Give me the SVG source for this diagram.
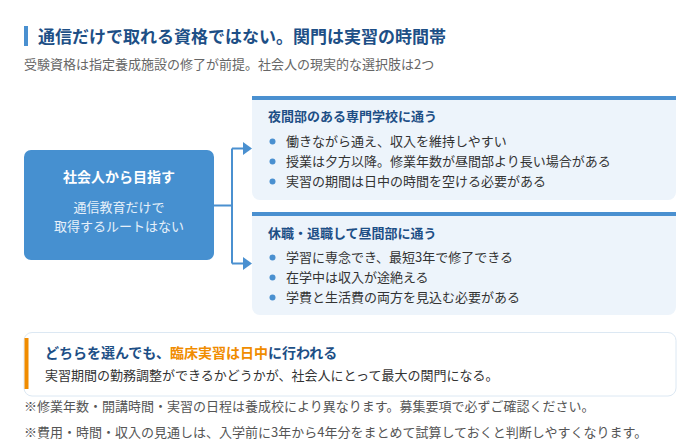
<svg xmlns="http://www.w3.org/2000/svg" width="700" height="444" viewBox="0 0 700 444">
<defs>
<style>
text{font-family:"Noto Sans CJK JP","Noto Sans",sans-serif;}
.title{font-size:17px;font-weight:700;fill:#1d4f86;}
.sub{font-size:13px;fill:#666;}
.nodeT{font-size:14px;font-weight:700;fill:#fff;}
.nodeS{font-size:13px;fill:#e6f0fa;}
.cardH{font-size:13px;font-weight:700;fill:#1d4f86;}
.item{font-size:13px;fill:#333;}
.dot{fill:#4a90d0;}
.card{fill:#edf4fb;}
.bar{fill:#4a90d0;}
.conn{fill:none;stroke:#4a90d0;stroke-width:2;}
.head{fill:#4a90d0;}
.noteH{font-size:14px;font-weight:700;fill:#1d4f86;}
.noteB{font-size:13px;fill:#333;}
.foot{font-size:13px;fill:#555;}
</style>
</defs>
<rect x="0" y="0" width="700" height="444" fill="#fff"/>
<g id="header">
<rect x="24" y="26" width="4" height="20" fill="#4a90d0"/>
<text class="title" x="38" y="43">通信だけで取れる資格ではない。関門は実習の時間帯</text>
<text class="sub" x="24" y="69">受験資格は指定養成施設の修了が前提。社会人の現実的な選択肢は2つ</text>
</g>
<g id="connectors">
<path class="conn" d="M214 205.5 H232 M232 148.5 V263.5 M232 148.5 H244 M232 263.5 H244"/>
<polygon class="head" points="243,142 252,148.5 243,155"/>
<polygon class="head" points="243,257 252,263.5 243,270"/>
</g>
<g id="start">
<rect x="24" y="150" width="190" height="110" rx="7" fill="#4690d0"/>
<text class="nodeT" x="119" y="182" text-anchor="middle">社会人から目指す</text>
<text class="nodeS" x="119" y="212" text-anchor="middle">通信教育だけで</text>
<text class="nodeS" x="119" y="231" text-anchor="middle">取得するルートはない</text>
</g>
<g id="night">
<path class="card" d="M252 96 H676 V192 A8 8 0 0 1 668 200 H260 A8 8 0 0 1 252 192 Z"/>
<rect class="bar" x="252" y="96" width="424" height="4"/>
<text class="cardH" x="268" y="121">夜間部のある専門学校に通う</text>
<circle class="dot" cx="272.5" cy="141.5" r="3"/>
<text class="item" x="286" y="146">働きながら通え、収入を維持しやすい</text>
<circle class="dot" cx="272.5" cy="161.5" r="3"/>
<text class="item" x="286" y="166">授業は夕方以降。修業年数が昼間部より長い場合がある</text>
<circle class="dot" cx="272.5" cy="181.5" r="3"/>
<text class="item" x="286" y="186">実習の期間は日中の時間を空ける必要がある</text>
</g>
<g id="day">
<path class="card" d="M252 212 H676 V307 A8 8 0 0 1 668 315 H260 A8 8 0 0 1 252 307 Z"/>
<rect class="bar" x="252" y="212" width="424" height="4"/>
<text class="cardH" x="268" y="238">休職・退職して昼間部に通う</text>
<circle class="dot" cx="272.5" cy="257.5" r="3"/>
<text class="item" x="286" y="262">学習に専念でき、最短3年で修了できる</text>
<circle class="dot" cx="272.5" cy="277.5" r="3"/>
<text class="item" x="286" y="282">在学中は収入が途絶える</text>
<circle class="dot" cx="272.5" cy="297.5" r="3"/>
<text class="item" x="286" y="302">学費と生活費の両方を見込む必要がある</text>
</g>
<g id="note">
<rect x="24" y="332.5" width="652" height="63.5" rx="8" fill="#fff" stroke="#dce8f3" stroke-width="1"/>
<rect x="24.5" y="338" width="4" height="51" fill="#f08c00"/>
<text class="noteH" x="45" y="358">どちらを選んでも、<tspan fill="#f08c00">臨床実習は日中</tspan>に行われる</text>
<text class="noteB" x="45" y="380">実習期間の勤務調整ができるかどうかが、社会人にとって最大の関門になる。</text>
</g>
<g id="footnotes">
<text class="foot" x="24" y="411">※修業年数・開講時間・実習の日程は養成校により異なります。募集要項で必ずご確認ください。</text>
<text class="foot" x="24" y="437">※費用・時間・収入の見通しは、入学前に3年から4年分をまとめて試算しておくと判断しやすくなります。</text>
</g>
</svg>
